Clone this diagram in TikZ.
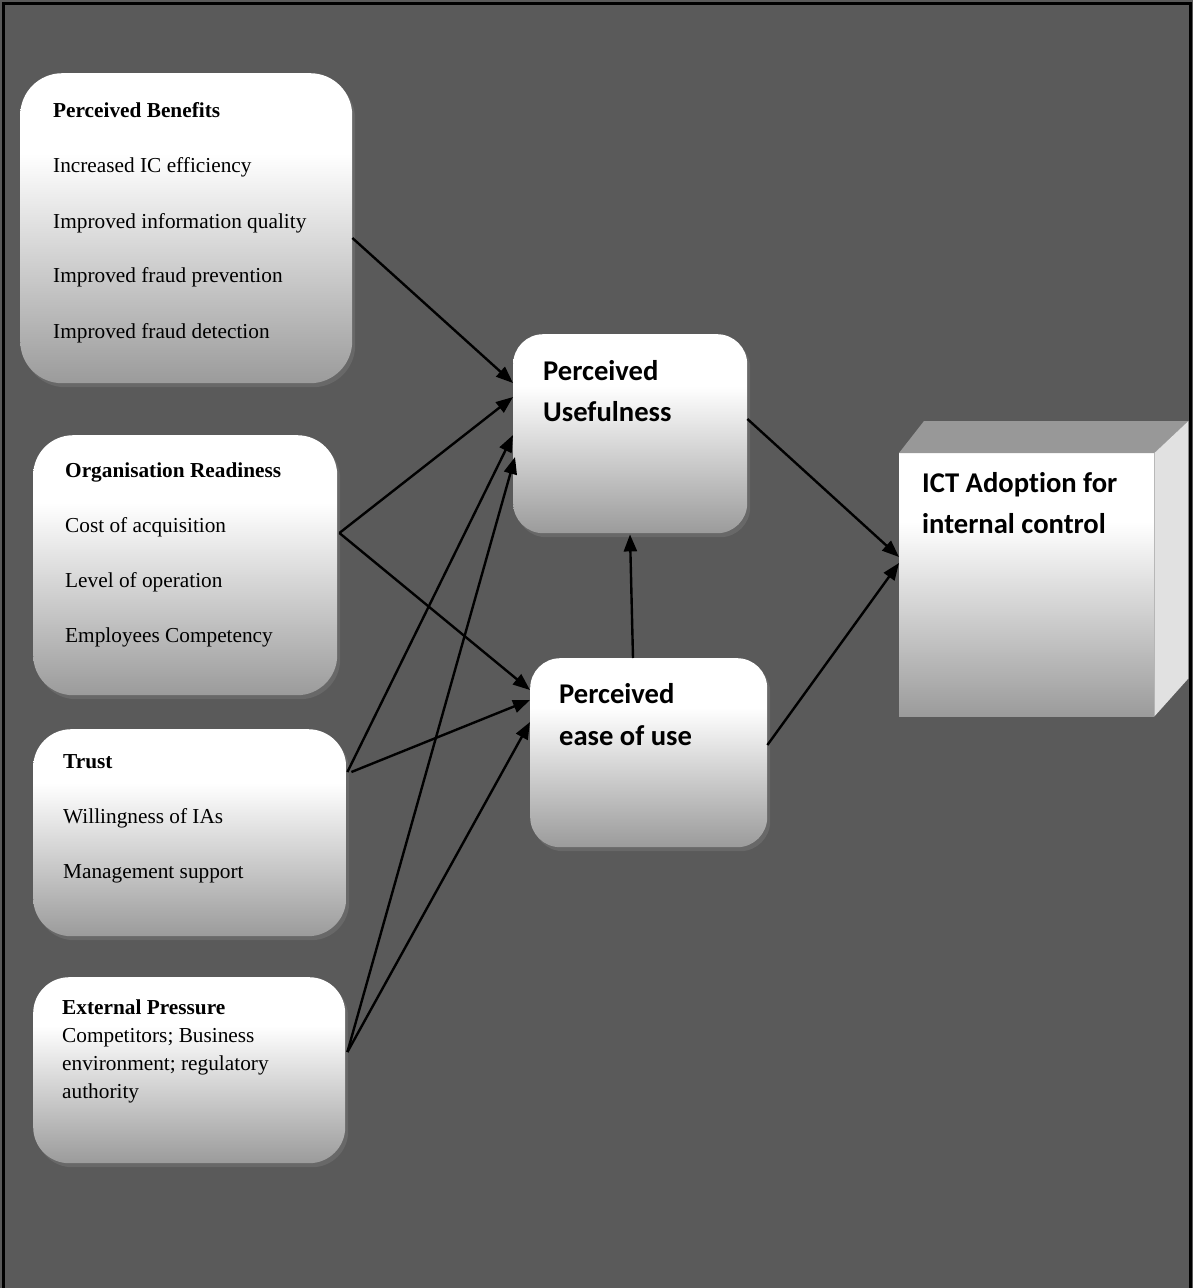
\documentclass[tikz,border=0pt]{standalone}
\usepackage{fontspec}
\setmainfont{Liberation Serif}
\newfontfamily\calibri[Ligatures=NoCommon]{Carlito}
\usetikzlibrary{arrows.meta,calc,shadows}

\definecolor{canvas}{RGB}{90,90,90}
\definecolor{halo}{RGB}{104,104,104}
\definecolor{boxlow}{RGB}{155,155,155}
\definecolor{cubetop}{RGB}{152,152,152}
\definecolor{cubeside}{RGB}{225,225,225}

% white at the top, fading to grey towards the bottom
\pgfdeclareverticalshading{boxfade}{100bp}{color(0bp)=(boxlow); color(25bp)=(boxlow); color(62bp)=(white); color(100bp)=(white)}

\tikzset{
  panel/.style={rectangle, rounded corners=#1, inner sep=0pt, draw=none,
    shading=boxfade,
    drop shadow={shadow xshift=3pt, shadow yshift=-4pt, fill=halo, opacity=1}},
  item/.style={anchor=base west, inner sep=0pt, font=\fontsize{21.3}{25}\selectfont},
  head/.style={item, font=\bfseries\fontsize{21.3}{25}\selectfont},
  big/.style={anchor=base west, inner sep=0pt, font=\calibri\bfseries\fontsize{28.6}{34}\selectfont},
  conn/.style={line width=2.4pt, -{Triangle[length=17pt,width=13pt]}},
}

\begin{document}
\begin{tikzpicture}[x=1pt,y=-1pt]
  \useasboundingbox (0,0) rectangle (1193,1288);
  \fill[canvas] (0,0) rectangle (1193,1288);
  \draw[line width=3pt] (3,1288) -- (3,3) -- (1190,3) -- (1190,1288);

  % factor boxes on the left
  \node[panel=42pt, minimum width=332pt, minimum height=310pt, anchor=north west] (pb) at (20,73) {};
  \node[head] (pbh) at (53,117) {Perceived Benefits};
  \node[item] (pb1) at (53,172) {Increased IC efficiency};
  \node[item] (pb2) at (53,228) {Improved information quality};
  \node[item] (pb3) at (53,282) {Improved fraud prevention};
  \node[item] (pb4) at (53,338) {Improved fraud detection};

  \node[panel=40pt, minimum width=304pt, minimum height=260pt, anchor=north west] (ready) at (33,435) {};
  \node[head] (rdh) at (65,477) {Organisation Readiness};
  \node[item] (rd1) at (65,532) {Cost of acquisition};
  \node[item] (rd2) at (65,587) {Level of operation};
  \node[item] (rd3) at (65,642) {Employees Competency};

  \node[panel=38pt, minimum width=313pt, minimum height=207pt, anchor=north west] (trust) at (33,729) {};
  \node[head] (trh) at (63,768) {Trust};
  \node[item] (tr1) at (63,823) {Willingness of IAs};
  \node[item] (tr2) at (63,878) {Management support};

  \node[panel=36pt, minimum width=312pt, minimum height=186pt, anchor=north west] (ep) at (33,977) {};
  \node[head] (eph) at (62,1014) {External Pressure};
  \node[item] (ep1) at (62,1042) {Competitors; Business};
  \node[item] (ep2) at (62,1070) {environment; regulatory};
  \node[item] (ep3) at (62,1098) {authority};

  % mediating constructs
  \node[panel=30pt, minimum width=234pt, minimum height=199pt, anchor=north west] (pu) at (513,334) {};
  \node[big] (pu1) at (543,380) {Perceived};
  \node[big] (pu2) at (543,421) {Usefulness};

  \node[panel=30pt, minimum width=237pt, minimum height=189pt, anchor=north west] (peu) at (530,658) {};
  \node[big] (peu1) at (559,703) {Perceived};
  \node[big] (peu2) at (559,745) {ease of use};

  % outcome cube
  \node[rectangle, inner sep=0pt, minimum width=255pt, minimum height=263pt,
        anchor=north west, shading=boxfade] (ict) at (899,453) {};
  \fill[cubetop] (ict.north west) -- ++(25,-32) -- ($(ict.north east)+(34,-32)$) -- (ict.north east) -- cycle;
  \fill[cubeside] (ict.north east) -- ++(34,-32) -- ($(ict.south east)+(34,-38)$) -- (ict.south east) -- cycle;
  \node[big] (ict1) at (922,492) {ICT Adoption for};
  \node[big] (ict2) at (922,533) {internal control};

  % connectors
  \draw[conn] ($(pb.north east)+(0,165)$) -- ($(pu.north west)+(0,49)$);
  \draw[conn] ($(ready.north east)+(2,98)$) -- ($(pu.north west)+(0,63)$);
  \draw[conn] ($(ready.north east)+(2,98)$) -- ($(peu.north west)+(0,32)$);
  \draw[conn] ($(trust.north east)+(1,43)$) -- ($(pu.north west)+(0,101)$);
  \draw[conn] ($(trust.north east)+(5,43)$) -- ($(peu.north west)+(0,42)$);
  \draw[conn] ($(ep.north east)+(2,75)$) -- ($(pu.north west)+(2,123)$);
  \draw[conn] ($(ep.north east)+(2,75)$) -- ($(peu.north west)+(0,64)$);
  \draw[conn] ($(peu.north west)+(103,0)$) -- ($(pu.south west)+(117,1)$);
  \draw[conn] ($(pu.north east)+(0,85)$) -- ($(ict.north west)+(0,104)$);
  \draw[conn] ($(peu.north east)+(0,87)$) -- ($(ict.north west)+(0,110)$);
\end{tikzpicture}
\end{document}
